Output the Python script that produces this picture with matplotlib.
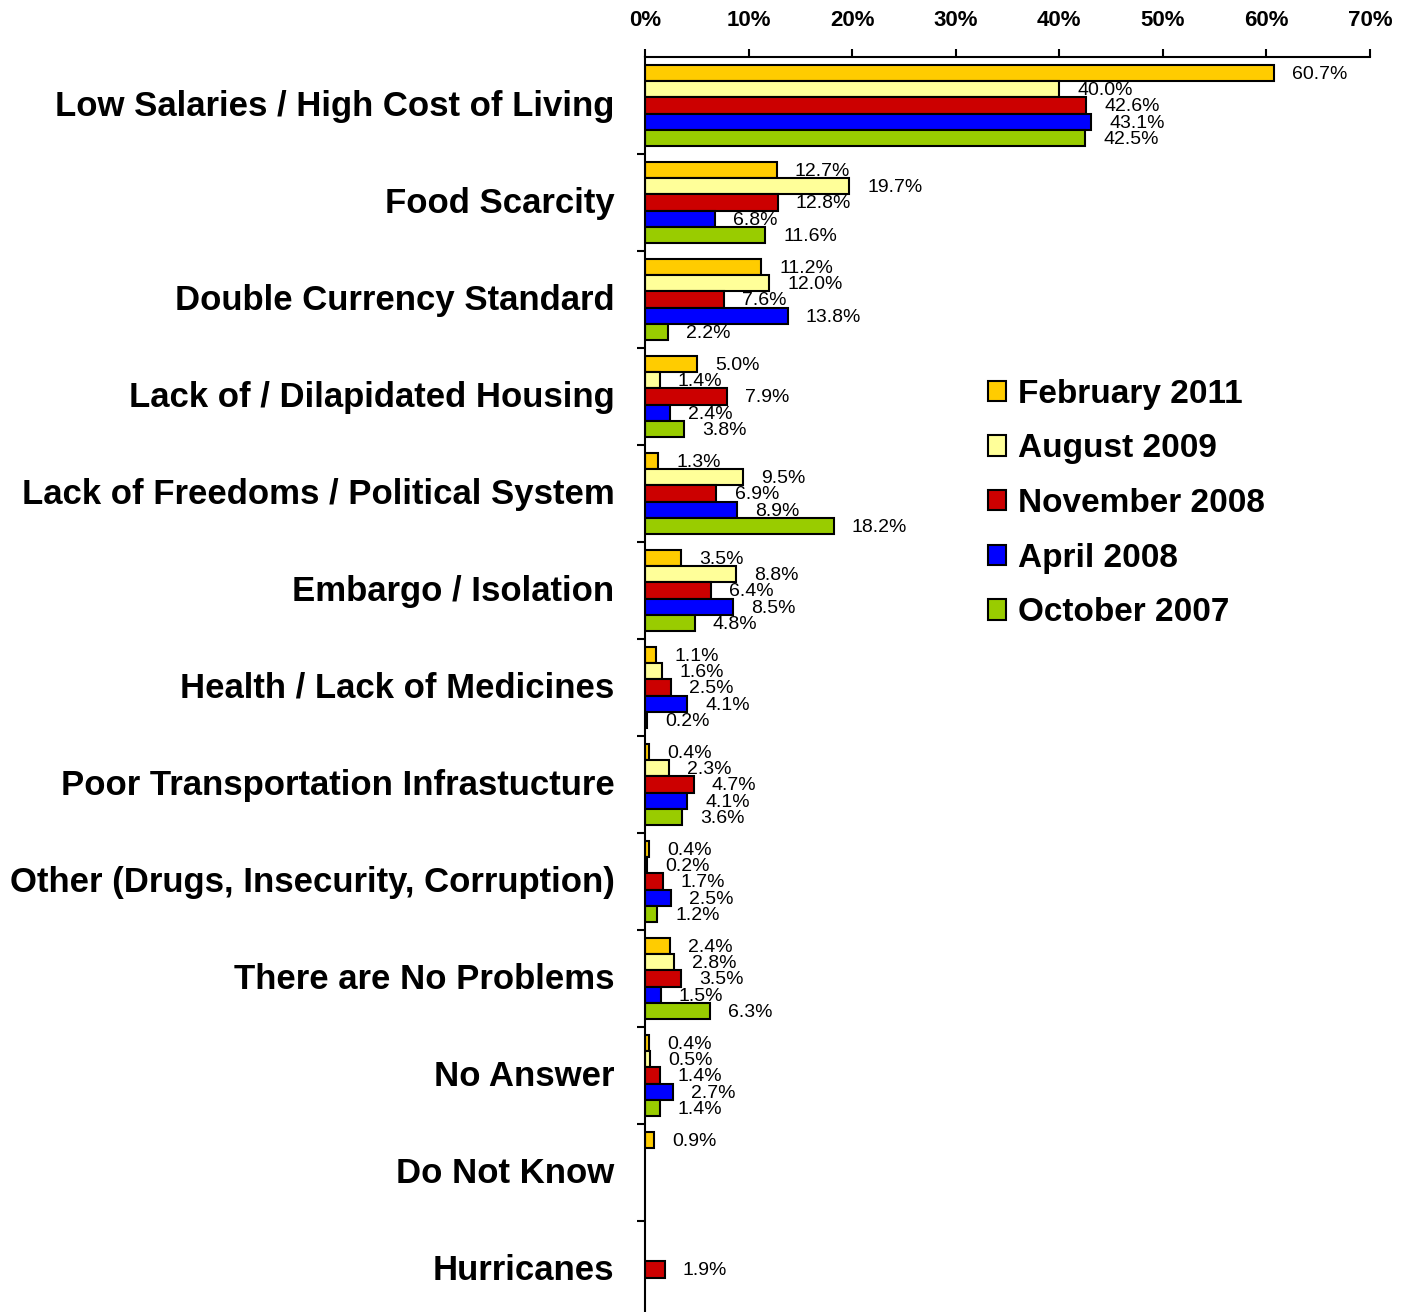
import numpy as np
import matplotlib
matplotlib.use("Agg")
import matplotlib.pyplot as plt
from matplotlib.patches import Patch

plt.rcParams['font.family'] = ['Liberation Sans', 'DejaVu Sans']

# Problems (top to bottom)
categories = [
    "Low Salaries / High Cost of Living",
    "Food Scarcity",
    "Double Currency Standard",
    "Lack of / Dilapidated Housing",
    "Lack of Freedoms / Political System",
    "Embargo / Isolation",
    "Health / Lack of Medicines",
    "Poor Transportation Infrastucture",
    "Other (Drugs, Insecurity, Corruption)",
    "There are No Problems",
    "No Answer",
    "Do Not Know",
    "Hurricanes",
]

series = ["February 2011", "August 2009", "November 2008", "April 2008", "October 2007"]
colors = ["#FFCC00", "#FFFF99", "#CC0000", "#0000FF", "#99CC00"]

feb_2011 = [60.7, 12.7, 11.2, 5.0, 1.3, 3.5, 1.1, 0.4, 0.4, 2.4, 0.4, 0.9, None]
aug_2009 = [40.0, 19.7, 12.0, 1.4, 9.5, 8.8, 1.6, 2.3, 0.2, 2.8, 0.5, None, None]
nov_2008 = [42.6, 12.8, 7.6, 7.9, 6.9, 6.4, 2.5, 4.7, 1.7, 3.5, 1.4, None, 1.9]
apr_2008 = [43.1, 6.8, 13.8, 2.4, 8.9, 8.5, 4.1, 4.1, 2.5, 1.5, 2.7, None, None]
oct_2007 = [42.5, 11.6, 2.2, 3.8, 18.2, 4.8, 0.2, 3.6, 1.2, 6.3, 1.4, None, None]

values = [feb_2011, aug_2009, nov_2008, apr_2008, oct_2007]
x_ticks = [0, 10, 20, 30, 40, 50, 60, 70]

fig = plt.figure(figsize=(14.02, 13.12), dpi=100)
ax = fig.add_axes([645 / 1402, 1 - 1318 / 1312, 725 / 1402, (1318 - 57) / 1312])

bar_h = 0.168
n = len(categories)
y = np.arange(n)
for k, (name, vals, col) in enumerate(zip(series, values, colors)):
    offs = (k - 2) * bar_h
    for i, v in enumerate(vals):
        if v is None:
            continue
        ax.barh(y[i] + offs, v, height=bar_h, color=col, edgecolor="black", linewidth=1.5)
        ax.annotate(f"{v:.1f}%", (v, y[i] + offs), xytext=(13, -1), textcoords="offset points",
                    ha="left", va="center", fontsize=14)

ax.set_xlim(0, 70)
ax.set_ylim(n - 0.5, -0.5)
ax.xaxis.tick_top()
ax.set_xticks(x_ticks)
ax.set_xticklabels([f"{t}%" for t in x_ticks], fontsize=16, fontweight="bold")
ax.tick_params(axis="x", direction="out", length=6, width=1.5, pad=13)

ax.set_yticks(y - 0.03)
ax.set_yticklabels(categories, fontsize=25, fontweight="bold")
ax.tick_params(axis="y", which="major", length=0, pad=22)
ax.set_yticks(np.arange(n - 1) + 0.5, minor=True)
ax.tick_params(axis="y", which="minor", direction="out", length=6, width=1.5)

for s in ["right", "bottom"]:
    ax.spines[s].set_visible(False)
for s in ["left", "top"]:
    ax.spines[s].set_linewidth(1.5)

handles = [Patch(facecolor=c, edgecolor="black", linewidth=1.5) for c in colors]
fig.legend(handles, series, loc="upper left", bbox_to_anchor=(971 / 1402, 1 - 362 / 1312),
           frameon=False, prop={"size": 24, "weight": "bold"}, handlelength=0.55, handleheight=0.55,
           handletextpad=0.35, labelspacing=0.71, borderpad=0)

fig.savefig("out.png", dpi=100)
